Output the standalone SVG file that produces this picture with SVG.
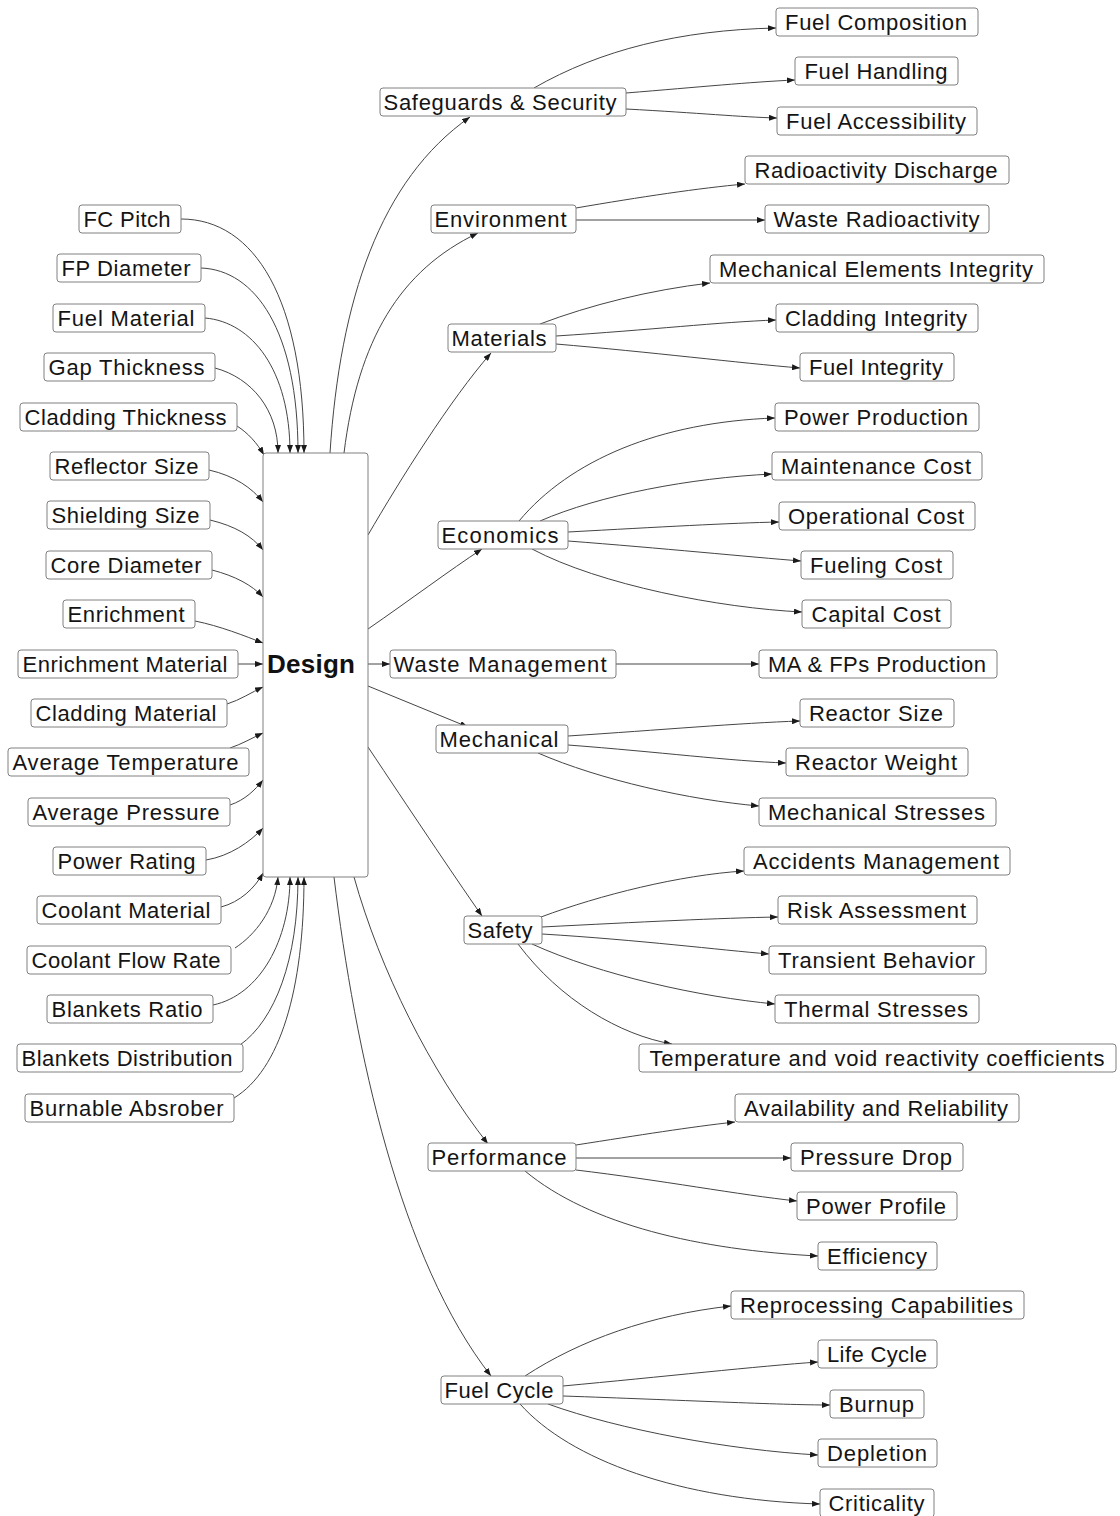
<svg xmlns="http://www.w3.org/2000/svg" width="1120" height="1516" viewBox="0 0 1120 1516">
  <defs>
    <marker id="ah" markerWidth="8" markerHeight="6" refX="8" refY="3" orient="auto" markerUnits="userSpaceOnUse">
      <path d="M0,0 L8,3 L0,6 z" fill="#1a1a1a"/>
    </marker>
    <style>
      .box { fill: #ffffff; stroke: #808080; stroke-width: 1; }
      .lbl { font-family: "Liberation Sans", Arial, sans-serif; font-size: 22px; fill: #141414; text-anchor: middle; }
      .main { font-family: "Liberation Sans", Arial, sans-serif; font-size: 26px; font-weight: bold; fill: #111111; text-anchor: middle; }
      .edge { fill: none; stroke: #454545; stroke-width: 1; marker-end: url(#ah); }
    </style>
  </defs>
  <rect width="1120" height="1516" fill="#ffffff"/>

  <!-- connectors -->
  <g id="edges">
    <!-- design parameters into Design -->
    <path class="edge" d="M181,219 C255,219 304,300 304,453"/>
    <path class="edge" d="M201,268 C255,270 298,330 298,453"/>
    <path class="edge" d="M205,318 C252,322 290,370 290,453"/>
    <path class="edge" d="M215,368 C252,378 278,410 278,453"/>
    <path class="edge" d="M237,426 C248,433 257,443 264,455"/>
    <path class="edge" d="M209,470 C235,476 252,488 263,502"/>
    <path class="edge" d="M210,520 C235,526 252,536 263,550"/>
    <path class="edge" d="M212,570 C235,576 252,585 263,597"/>
    <path class="edge" d="M195,621 C220,626 245,636 263,643"/>
    <path class="edge" d="M238,664 L263,664"/>
    <path class="edge" d="M227,704 C240,700 252,692 263,687"/>
    <path class="edge" d="M230,748 C242,744 252,738 263,733"/>
    <path class="edge" d="M230,805 C245,800 255,790 263,780"/>
    <path class="edge" d="M206,860 C230,856 250,842 263,828"/>
    <path class="edge" d="M221,907 C240,902 255,888 263,873"/>
    <path class="edge" d="M235,948 C255,935 275,910 278,877"/>
    <path class="edge" d="M213,1005 C260,995 290,940 290,877"/>
    <path class="edge" d="M240,1045 C275,1020 298,960 298,877"/>
    <path class="edge" d="M234,1098 C280,1070 304,990 304,877"/>

    <!-- Design to assessment areas -->
    <path class="edge" d="M330,453 C340,300 380,180 470,117"/>
    <path class="edge" d="M344,453 C358,340 400,270 478,233"/>
    <path class="edge" d="M368,535 C400,480 450,400 491,353"/>
    <path class="edge" d="M368,629 C410,600 450,570 482,549"/>
    <path class="edge" d="M368,664 L390,664"/>
    <path class="edge" d="M368,686 L468,727"/>
    <path class="edge" d="M368,747 C410,810 450,870 482,916"/>
    <path class="edge" d="M354,877 C380,970 430,1070 488,1144"/>
    <path class="edge" d="M334,877 C355,1050 400,1260 491,1376"/>

    <!-- Safeguards & Security -->
    <path class="edge" d="M534,88 C600,50 680,30 776,28"/>
    <path class="edge" d="M626,93 C700,87 750,82 795,80"/>
    <path class="edge" d="M626,109 C700,113 740,117 777,118"/>
    <!-- Environment -->
    <path class="edge" d="M576,208 C640,197 700,188 745,184"/>
    <path class="edge" d="M576,220 L765,220"/>
    <!-- Materials -->
    <path class="edge" d="M540,324 C590,305 650,290 710,283"/>
    <path class="edge" d="M556,336 C650,330 720,322 776,320"/>
    <path class="edge" d="M556,344 C650,352 740,363 800,368"/>
    <!-- Economics -->
    <path class="edge" d="M519,521 C570,460 660,422 775,418"/>
    <path class="edge" d="M540,521 C600,495 690,478 772,474"/>
    <path class="edge" d="M568,532 C660,527 730,523 779,522"/>
    <path class="edge" d="M568,541 C660,548 750,557 801,561"/>
    <path class="edge" d="M532,549 C600,585 720,608 802,612"/>
    <!-- Waste Management -->
    <path class="edge" d="M616,664 L759,664"/>
    <!-- Mechanical -->
    <path class="edge" d="M568,736 C660,730 740,723 800,721"/>
    <path class="edge" d="M568,745 C660,752 730,761 786,763"/>
    <path class="edge" d="M538,753 C600,780 690,800 759,806"/>
    <!-- Safety -->
    <path class="edge" d="M541,917 C600,895 680,875 744,871"/>
    <path class="edge" d="M542,927 C640,922 720,918 778,917"/>
    <path class="edge" d="M542,934 C640,940 720,950 769,954"/>
    <path class="edge" d="M532,944 C600,975 700,997 775,1004"/>
    <path class="edge" d="M518,944 C560,1000 620,1035 672,1044"/>
    <!-- Performance -->
    <path class="edge" d="M576,1145 C640,1135 690,1127 735,1122"/>
    <path class="edge" d="M576,1158 L791,1158"/>
    <path class="edge" d="M576,1170 C660,1180 740,1195 797,1201"/>
    <path class="edge" d="M525,1171 C590,1225 700,1250 818,1256"/>
    <!-- Fuel Cycle -->
    <path class="edge" d="M525,1376 C580,1340 650,1315 731,1306"/>
    <path class="edge" d="M563,1386 C660,1377 760,1366 818,1362"/>
    <path class="edge" d="M563,1396 C680,1400 780,1405 830,1405"/>
    <path class="edge" d="M548,1404 C620,1430 730,1450 818,1455"/>
    <path class="edge" d="M520,1404 C570,1460 680,1500 820,1504"/>
  </g>

  <!-- central node -->
  <g id="design">
    <rect class="box" x="263" y="453" width="105" height="424" rx="3"/>
    <text class="main" x="311" y="673" textLength="88" lengthAdjust="spacing">Design</text>
  </g>

  <!-- design parameters -->
  <g id="fc-pitch"><rect class="box" x="79" y="205" width="102" height="28" rx="3"/><text class="lbl" x="127" y="227" textLength="87" lengthAdjust="spacing">FC Pitch</text></g>
  <g id="fp-diameter"><rect class="box" x="57" y="254" width="144" height="28" rx="3"/><text class="lbl" x="126" y="276" textLength="129" lengthAdjust="spacing">FP Diameter</text></g>
  <g id="fuel-material"><rect class="box" x="53" y="304" width="152" height="28" rx="3"/><text class="lbl" x="126" y="326" textLength="137" lengthAdjust="spacing">Fuel Material</text></g>
  <g id="gap-thickness"><rect class="box" x="44" y="353" width="171" height="28" rx="3"/><text class="lbl" x="126.5" y="375" textLength="156" lengthAdjust="spacing">Gap Thickness</text></g>
  <g id="cladding-thickness"><rect class="box" x="20" y="403" width="217" height="28" rx="3"/><text class="lbl" x="125.5" y="425" textLength="202" lengthAdjust="spacing">Cladding Thickness</text></g>
  <g id="reflector-size"><rect class="box" x="50" y="452" width="159" height="28" rx="3"/><text class="lbl" x="126.5" y="474" textLength="144" lengthAdjust="spacing">Reflector Size</text></g>
  <g id="shielding-size"><rect class="box" x="47" y="501" width="163" height="28" rx="3"/><text class="lbl" x="125.5" y="523" textLength="148" lengthAdjust="spacing">Shielding Size</text></g>
  <g id="core-diameter"><rect class="box" x="46" y="551" width="166" height="28" rx="3"/><text class="lbl" x="126" y="573" textLength="151" lengthAdjust="spacing">Core Diameter</text></g>
  <g id="enrichment"><rect class="box" x="63" y="600" width="132" height="28" rx="3"/><text class="lbl" x="126" y="622" textLength="117" lengthAdjust="spacing">Enrichment</text></g>
  <g id="enrichment-material"><rect class="box" x="18" y="650" width="220" height="28" rx="3"/><text class="lbl" x="125" y="672" textLength="205" lengthAdjust="spacing">Enrichment Material</text></g>
  <g id="cladding-material"><rect class="box" x="31" y="699" width="196" height="28" rx="3"/><text class="lbl" x="126" y="721" textLength="181" lengthAdjust="spacing">Cladding Material</text></g>
  <g id="average-temperature"><rect class="box" x="8" y="748" width="241" height="28" rx="3"/><text class="lbl" x="125.5" y="770" textLength="226" lengthAdjust="spacing">Average Temperature</text></g>
  <g id="average-pressure"><rect class="box" x="28" y="798" width="202" height="28" rx="3"/><text class="lbl" x="126" y="820" textLength="187" lengthAdjust="spacing">Average Pressure</text></g>
  <g id="power-rating"><rect class="box" x="53" y="847" width="153" height="28" rx="3"/><text class="lbl" x="126.5" y="869" textLength="138" lengthAdjust="spacing">Power Rating</text></g>
  <g id="coolant-material"><rect class="box" x="37" y="896" width="184" height="28" rx="3"/><text class="lbl" x="126" y="918" textLength="169" lengthAdjust="spacing">Coolant Material</text></g>
  <g id="coolant-flow-rate"><rect class="box" x="27" y="946" width="204" height="28" rx="3"/><text class="lbl" x="126" y="968" textLength="189" lengthAdjust="spacing">Coolant Flow Rate</text></g>
  <g id="blankets-ratio"><rect class="box" x="47" y="995" width="166" height="28" rx="3"/><text class="lbl" x="127" y="1017" textLength="151" lengthAdjust="spacing">Blankets Ratio</text></g>
  <g id="blankets-distribution"><rect class="box" x="17" y="1044" width="226" height="28" rx="3"/><text class="lbl" x="127" y="1066" textLength="211" lengthAdjust="spacing">Blankets Distribution</text></g>
  <g id="burnable-absrober"><rect class="box" x="25" y="1094" width="209" height="28" rx="3"/><text class="lbl" x="126.5" y="1116" textLength="194" lengthAdjust="spacing">Burnable Absrober</text></g>

  <!-- assessment areas -->
  <g id="safeguards-security"><rect class="box" x="380" y="88" width="246" height="28" rx="3"/><text class="lbl" x="500" y="110" textLength="233" lengthAdjust="spacing">Safeguards &amp; Security</text></g>
  <g id="environment"><rect class="box" x="431" y="205" width="145" height="28" rx="3"/><text class="lbl" x="500.5" y="227" textLength="132" lengthAdjust="spacing">Environment</text></g>
  <g id="materials"><rect class="box" x="448" y="324" width="108" height="28" rx="3"/><text class="lbl" x="499" y="346" textLength="95" lengthAdjust="spacing">Materials</text></g>
  <g id="economics"><rect class="box" x="438" y="521" width="130" height="28" rx="3"/><text class="lbl" x="500" y="543" textLength="117" lengthAdjust="spacing">Economics</text></g>
  <g id="waste-management"><rect class="box" x="390" y="650" width="226" height="28" rx="3"/><text class="lbl" x="500" y="672" textLength="213" lengthAdjust="spacing">Waste Management</text></g>
  <g id="mechanical"><rect class="box" x="436" y="725" width="132" height="28" rx="3"/><text class="lbl" x="499" y="747" textLength="119" lengthAdjust="spacing">Mechanical</text></g>
  <g id="safety"><rect class="box" x="464" y="916" width="78" height="28" rx="3"/><text class="lbl" x="500" y="938" textLength="65" lengthAdjust="spacing">Safety</text></g>
  <g id="performance"><rect class="box" x="428" y="1143" width="148" height="28" rx="3"/><text class="lbl" x="499" y="1165" textLength="135" lengthAdjust="spacing">Performance</text></g>
  <g id="fuel-cycle"><rect class="box" x="441" y="1376" width="122" height="28" rx="3"/><text class="lbl" x="499" y="1398" textLength="109" lengthAdjust="spacing">Fuel Cycle</text></g>

  <!-- evaluation criteria -->
  <g id="fuel-composition"><rect class="box" x="776" y="8" width="202" height="28" rx="3"/><text class="lbl" x="876" y="30" textLength="182" lengthAdjust="spacing">Fuel Composition</text></g>
  <g id="fuel-handling"><rect class="box" x="795" y="57" width="163" height="28" rx="3"/><text class="lbl" x="876" y="79" textLength="143" lengthAdjust="spacing">Fuel Handling</text></g>
  <g id="fuel-accessibility"><rect class="box" x="777" y="107" width="200" height="28" rx="3"/><text class="lbl" x="876" y="129" textLength="180" lengthAdjust="spacing">Fuel Accessibility</text></g>
  <g id="radioactivity-discharge"><rect class="box" x="745" y="156" width="264" height="28" rx="3"/><text class="lbl" x="876" y="178" textLength="243" lengthAdjust="spacing">Radioactivity Discharge</text></g>
  <g id="waste-radioactivity"><rect class="box" x="765" y="205" width="224" height="28" rx="3"/><text class="lbl" x="876.5" y="227" textLength="206" lengthAdjust="spacing">Waste Radioactivity</text></g>
  <g id="mechanical-elements-integrity"><rect class="box" x="710" y="255" width="334" height="28" rx="3"/><text class="lbl" x="876" y="277" textLength="314" lengthAdjust="spacing">Mechanical Elements Integrity</text></g>
  <g id="cladding-integrity"><rect class="box" x="776" y="304" width="202" height="28" rx="3"/><text class="lbl" x="876" y="326" textLength="182" lengthAdjust="spacing">Cladding Integrity</text></g>
  <g id="fuel-integrity"><rect class="box" x="800" y="353" width="154" height="28" rx="3"/><text class="lbl" x="876" y="375" textLength="134" lengthAdjust="spacing">Fuel Integrity</text></g>
  <g id="power-production"><rect class="box" x="775" y="403" width="204" height="28" rx="3"/><text class="lbl" x="876" y="425" textLength="184" lengthAdjust="spacing">Power Production</text></g>
  <g id="maintenance-cost"><rect class="box" x="772" y="452" width="210" height="28" rx="3"/><text class="lbl" x="876" y="474" textLength="190" lengthAdjust="spacing">Maintenance Cost</text></g>
  <g id="operational-cost"><rect class="box" x="779" y="502" width="196" height="28" rx="3"/><text class="lbl" x="876" y="524" textLength="176" lengthAdjust="spacing">Operational Cost</text></g>
  <g id="fueling-cost"><rect class="box" x="801" y="551" width="152" height="28" rx="3"/><text class="lbl" x="876" y="573" textLength="132" lengthAdjust="spacing">Fueling Cost</text></g>
  <g id="capital-cost"><rect class="box" x="802" y="600" width="149" height="28" rx="3"/><text class="lbl" x="876" y="622" textLength="129" lengthAdjust="spacing">Capital Cost</text></g>
  <g id="ma-fps-production"><rect class="box" x="759" y="650" width="238" height="28" rx="3"/><text class="lbl" x="877" y="672" textLength="218" lengthAdjust="spacing">MA &amp; FPs Production</text></g>
  <g id="reactor-size"><rect class="box" x="800" y="699" width="154" height="28" rx="3"/><text class="lbl" x="876" y="721" textLength="134" lengthAdjust="spacing">Reactor Size</text></g>
  <g id="reactor-weight"><rect class="box" x="786" y="748" width="182" height="28" rx="3"/><text class="lbl" x="876" y="770" textLength="162" lengthAdjust="spacing">Reactor Weight</text></g>
  <g id="mechanical-stresses"><rect class="box" x="759" y="798" width="237" height="28" rx="3"/><text class="lbl" x="876.5" y="820" textLength="217" lengthAdjust="spacing">Mechanical Stresses</text></g>
  <g id="accidents-management"><rect class="box" x="744" y="847" width="266" height="28" rx="3"/><text class="lbl" x="876" y="869" textLength="246" lengthAdjust="spacing">Accidents Management</text></g>
  <g id="risk-assessment"><rect class="box" x="778" y="896" width="199" height="28" rx="3"/><text class="lbl" x="876.5" y="918" textLength="179" lengthAdjust="spacing">Risk Assessment</text></g>
  <g id="transient-behavior"><rect class="box" x="769" y="946" width="217" height="28" rx="3"/><text class="lbl" x="876.5" y="968" textLength="197" lengthAdjust="spacing">Transient Behavior</text></g>
  <g id="thermal-stresses"><rect class="box" x="775" y="995" width="204" height="28" rx="3"/><text class="lbl" x="876" y="1017" textLength="184" lengthAdjust="spacing">Thermal Stresses</text></g>
  <g id="temperature-void-coefficients"><rect class="box" x="639" y="1044" width="477" height="28" rx="3"/><text class="lbl" x="877" y="1066" textLength="455" lengthAdjust="spacing">Temperature and void reactivity coefficients</text></g>
  <g id="availability-reliability"><rect class="box" x="735" y="1094" width="284" height="28" rx="3"/><text class="lbl" x="876" y="1116" textLength="264" lengthAdjust="spacing">Availability and Reliability</text></g>
  <g id="pressure-drop"><rect class="box" x="791" y="1143" width="172" height="28" rx="3"/><text class="lbl" x="876" y="1165" textLength="152" lengthAdjust="spacing">Pressure Drop</text></g>
  <g id="power-profile"><rect class="box" x="797" y="1192" width="160" height="28" rx="3"/><text class="lbl" x="876" y="1214" textLength="140" lengthAdjust="spacing">Power Profile</text></g>
  <g id="efficiency"><rect class="box" x="818" y="1242" width="119" height="28" rx="3"/><text class="lbl" x="877" y="1264" textLength="100" lengthAdjust="spacing">Efficiency</text></g>
  <g id="reprocessing-capabilities"><rect class="box" x="731" y="1291" width="293" height="28" rx="3"/><text class="lbl" x="876.5" y="1313" textLength="273" lengthAdjust="spacing">Reprocessing Capabilities</text></g>
  <g id="life-cycle"><rect class="box" x="818" y="1340" width="119" height="28" rx="3"/><text class="lbl" x="877" y="1362" textLength="100" lengthAdjust="spacing">Life Cycle</text></g>
  <g id="burnup"><rect class="box" x="830" y="1390" width="94" height="28" rx="3"/><text class="lbl" x="876.5" y="1412" textLength="75" lengthAdjust="spacing">Burnup</text></g>
  <g id="depletion"><rect class="box" x="818" y="1439" width="119" height="28" rx="3"/><text class="lbl" x="877" y="1461" textLength="100" lengthAdjust="spacing">Depletion</text></g>
  <g id="criticality"><rect class="box" x="820" y="1489" width="114" height="28" rx="3"/><text class="lbl" x="876.5" y="1511" textLength="96" lengthAdjust="spacing">Criticality</text></g>
</svg>
